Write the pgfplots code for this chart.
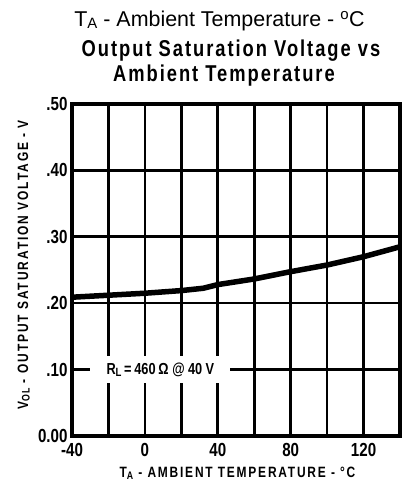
\documentclass[border=0pt]{standalone}
\usepackage{fontspec}
\setmainfont{Liberation Sans}
\newfontfamily\cond[FakeStretch=0.8]{Liberation Sans}
\newfontfamily\condsp[FakeStretch=0.8,LetterSpace=12]{Liberation Sans}
\newfontfamily\condsy[FakeStretch=0.8,LetterSpace=13]{Liberation Sans}
\newfontfamily\condti[FakeStretch=0.8,LetterSpace=8.6]{Liberation Sans}
\usepackage{pgfplots}
\pgfplotsset{compat=1.18}
\begin{document}
\begin{tikzpicture}[x=1bp,y=1bp]
\path[use as bounding box] (0,0) rectangle (402,481);
\node[anchor=base] at (219.5,454) {\fontsize{21.5}{21.5}\selectfont T\raisebox{-2bp}{\fontsize{15}{15}\selectfont A} - Ambient Temperature - \textsuperscript{o}C};
\node[anchor=base] at (231,424) {\condti\bfseries\fontsize{23}{23}\selectfont Output Saturation Voltage vs};
\node[anchor=base] at (224,399) {\condti\bfseries\fontsize{23}{23}\selectfont Ambient Temperature};
\node[anchor=base,rotate=90] at (28,216) {\condsy\bfseries\fontsize{15}{15}\selectfont V\raisebox{-1.5bp}{\fontsize{11}{11}\selectfont OL} - OUTPUT SATURATION VOLTAGE - V};
\node[anchor=base] at (237.5,3) {\condsp\bfseries\fontsize{15}{15}\selectfont T\raisebox{-1.5bp}{\fontsize{11}{11}\selectfont A} - AMBIENT TEMPERATURE - °C};
\begin{axis}[
  at={(72bp,45bp)}, anchor=south west,
  scale only axis, width=328bp, height=332bp,
  xmin=-40, xmax=140, ymin=0, ymax=0.5,
  xtick={-40,-20,0,20,40,60,80,100,120,140},
  xticklabels={-40,,0,,40,,80,,120,},
  ytick={0,0.1,0.2,0.3,0.4,0.5},
  yticklabels={0.00,.10,.20,.30,.40,.50},
  major tick length=0,
  grid=major,
  grid style={black, line width=2.6bp},
  axis line style={black, line width=4bp},
  tick label style={font=\cond\bfseries\fontsize{19}{19}\selectfont},
  xticklabel style={yshift=-4bp},
  yticklabel style={xshift=-1bp},
  clip=false,
]
\node[fill=white, minimum width=140bp, minimum height=27bp, inner sep=0pt] at (axis cs:8.5,0.1)
  {\cond\bfseries\fontsize{16}{16}\selectfont R\raisebox{-2bp}{\fontsize{12}{12}\selectfont L}\,=\,460\,Ω \textit{@} 40 V};
\addplot[black, line width=5.5bp, line join=round, line cap=butt] coordinates {
(-40,0.209) (-20,0.212) (0,0.215) (20,0.219) (32,0.2225) (40,0.228) (60,0.2365) (80,0.2475) (100,0.2575) (120,0.270) (140,0.285)
};
\end{axis}
\end{tikzpicture}
\end{document}
